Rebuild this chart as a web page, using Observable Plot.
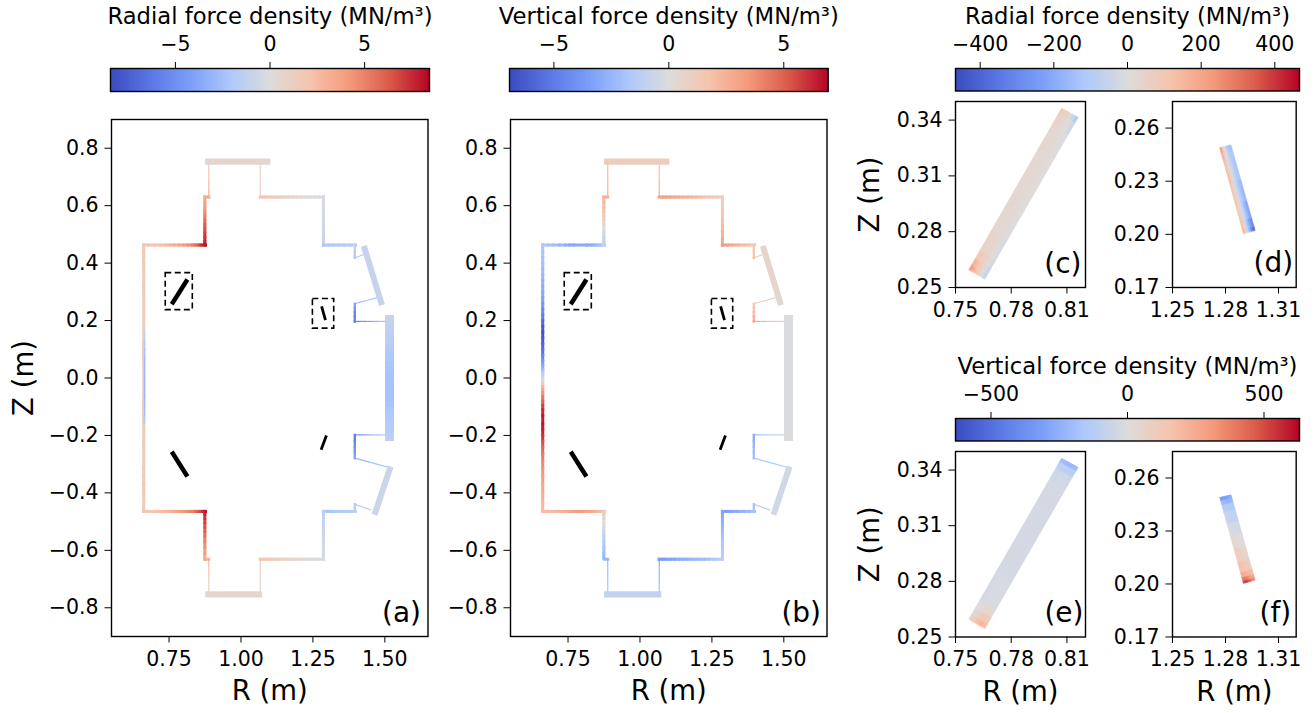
<!DOCTYPE html>
<html>
<head>
<meta charset="utf-8">
<script src="https://cdn.jsdelivr.net/npm/d3@7"></script>
<script src="https://cdn.jsdelivr.net/npm/@observablehq/plot@0.6"></script>
<style>
html,body{margin:0;padding:0;background:#fff;}
#fig{position:relative;width:1315px;height:713px;overflow:hidden;}
#fig>div,#fig>svg{position:absolute;}
</style>
</head>
<body>
<div id="fig"></div>
<script>
// Matplotlib "coolwarm" stops
const coolwarm = ["#3b4cc0","#5a78e4","#7b9ff9","#aec9fc","#dddcdc","#f6c4ad","#f49a7b","#da5a49","#b40426"];
const interp = d3.piecewise(d3.interpolateRgb, coolwarm);

// Each vertex: [R (m), Z (m), radial force density, vertical force density]
const leftWall = [[.662,.4645,1.8,-1.8],[.662,.44,1.75,-1.9],[.662,.42,1.7,-2],[.662,.40,1.65,-2.1],[.662,.38,1.6,-2.3],[.662,.36,1.6,-2.5],[.662,.34,1.6,-2.7],[.662,.32,1.55,-2.9],[.662,.30,1.5,-3.1],[.662,.28,1.5,-3.4],[.662,.26,1.5,-3.8],[.662,.24,1.5,-4.4],[.662,.22,1.5,-5],[.662,.20,1.5,-5.8],[.662,.18,1.5,-6.4],[.662,.16,1.5,-6.6],[.662,.14,1.5,-6.4],[.662,.12,1.45,-6],[.662,.10,1.4,-5.4],[.662,.08,1.3,-4.6],[.662,.06,1.2,-3.8],[.662,.045,1.2,-3.1],[.662,.03,1.2,-2.4],[.662,.02,1.2,-1.6],[.662,.01,1.2,-.9],[.662,0,1.2,-.3],[.662,-.01,1.2,.3],[.662,-.02,1.2,1.4],[.662,-.03,1.2,2.4],[.662,-.04,1.2,3.1],[.662,-.05,1.2,3.7],[.662,-.065,1.25,4.4],[.662,-.08,1.3,5],[.662,-.095,1.35,5.7],[.662,-.11,1.4,6.2],[.662,-.13,1.45,6.5],[.662,-.16,1.5,6.6],[.662,-.18,1.5,6.4],[.662,-.2,1.5,6],[.662,-.22,1.55,5.4],[.662,-.24,1.6,4.8],[.662,-.265,1.6,4.3],[.662,-.29,1.6,3.9],[.662,-.315,1.65,3.6],[.662,-.34,1.7,3.3],[.662,-.37,1.75,2.9],[.662,-.4,1.8,2.6],[.662,-.43,1.8,2.3],[.662,-.4645,1.8,2]];
const midStrand = [[.6648,.17,-1,0],[.6648,.15,-1.5,0],[.6648,.13,-2,0],[.6648,.105,-2.4,0],[.6648,.08,-2.8,0],[.6648,.05,-2.9,0],[.6648,.02,-3,0],[.6648,-.02,-3,0],[.6648,-.05,-3,0],[.6648,-.075,-2.8,0],[.6648,-.1,-2.6,0],[.6648,-.13,-2.1,0],[.6648,-.16,-1.5,0]];
const topShelfL = [[.662,.463,1.8,-1.8],[.68,.463,1.9,-2],[.70,.463,2,-2.2],[.72,.463,2.3,-2.5],[.74,.463,2.6,-2.8],[.755,.463,2.9,-3],[.77,.463,3.2,-3.1],[.785,.463,3.6,-3.1],[.80,.463,4,-3.1],[.815,.463,4.5,-3],[.83,.463,5,-2.8],[.84,.463,5.5,-2.5],[.85,.463,6,-2.2],[.858,.463,6.8,-2],[.865,.463,7.5,-1.8],[.8766,.463,8,-1.5]];
const topRiserL = [[.8744,.463,8,-1],[.8744,.475,7.6,-.9],[.8744,.49,7.2,-.7],[.8744,.505,6.8,-.4],[.8744,.52,6.4,0],[.8744,.535,6,.5],[.8744,.55,5.5,1],[.8744,.565,5,1.4],[.8744,.58,4.5,1.8],[.8744,.595,4,2],[.8744,.61,3.6,2.2],[.8744,.63,3.4,2.5],[.888,.63,3,2.5]];
const topNeckL = [[.888,.63,3,2.6],[.888,.66,2.5,2.4],[.888,.69,2,2.3],[.888,.72,1.6,2.1],[.888,.75,1.2,2]];
const topPlate = [[.8754,.7533,.6,1.2],[.98,.7533,.6,1.2],[1.102,.7533,.6,1.2]];
const topNeckR = [[1.067,.753,.8,1.8],[1.067,.72,.9,2],[1.067,.69,1.1,2.3],[1.067,.66,1.3,2.6],[1.067,.63,1.5,2.9]];
const topShelfR = [[1.067,.63,2,3.3],[1.08,.63,1.9,3.2],[1.09,.63,1.8,3.1],[1.105,.63,1.65,3],[1.12,.63,1.5,2.9],[1.135,.63,1.25,2.7],[1.15,.63,1,2.5],[1.165,.63,.8,2.4],[1.18,.63,.6,2.3],[1.195,.63,.45,2.1],[1.21,.63,.3,1.9],[1.225,.63,.15,1.7],[1.24,.63,0,1.5],[1.255,.63,-.05,1.3],[1.27,.63,-.1,1.1],[1.2866,.63,-.2,.9]];
const topRiserR = [[1.2866,.63,-.2,.9],[1.2866,.61,-.3,1.1],[1.2866,.59,-.4,1.4],[1.2866,.57,-.5,1.6],[1.2866,.55,-.6,1.9],[1.2866,.53,-.7,2.2],[1.2866,.51,-.8,2.5],[1.2866,.485,-.95,2.9],[1.2866,.463,-1.1,3.3]];
const topShelfO = [[1.2866,.463,-2.2,3.3],[1.305,.463,-2.1,3],[1.32,.463,-2,2.7],[1.34,.463,-1.9,2.3],[1.36,.463,-1.8,2],[1.38,.463,-1.65,1.7],[1.398,.463,-1.5,1.4]];
const upperPortA = [[1.3956,.463,-1.5,1.4],[1.3956,.44,-1.65,1.5],[1.3956,.418,-1.8,1.7]];
const upperLinkA = [[1.3956,.418,-2,1.2],[1.427,.43,-2,1]];
const upperSlab = [[1.427,.46,-1,.5],[1.49,.2536,-1,.5]];
const upperLinkB = [[1.4736,.28,-2.4,1],[1.43,.268,-2.7,1.1],[1.392,.258,-3,1.2]];
const upperPortB = [[1.3956,.258,-4,1.5],[1.3956,.245,-4.8,1.7],[1.3956,.23,-5.5,2],[1.3956,.215,-5.8,2.5],[1.3956,.197,-6,3]];
const upperMid = [[1.392,.197,-6,3],[1.405,.197,-5.5,2.7],[1.42,.197,-5,2.4],[1.44,.197,-4.1,1.9],[1.46,.197,-3.2,1.5],[1.48,.197,-2.6,1.1],[1.5026,.197,-2,.8]];
const rightWall = [[1.5155,.22,-1,-.1],[1.5155,.20,-1.15,-.1],[1.5155,.185,-1.25,-.1],[1.5155,.17,-1.4,-.1],[1.5155,.155,-1.5,-.1],[1.5155,.14,-1.6,-.1],[1.5155,.12,-1.8,-.1],[1.5155,.10,-1.95,-.1],[1.5155,.08,-2.1,-.1],[1.5155,.06,-2.2,-.1],[1.5155,.04,-2.3,-.1],[1.5155,.02,-2.35,-.1],[1.5155,0,-2.4,-.1],[1.5155,-.02,-2.4,-.1],[1.5155,-.04,-2.4,-.1],[1.5155,-.06,-2.4,-.1],[1.5155,-.08,-2.3,-.1],[1.5155,-.10,-2.15,-.1],[1.5155,-.12,-2,-.1],[1.5155,-.14,-1.9,-.1],[1.5155,-.155,-1.8,-.1],[1.5155,-.17,-1.7,-.1],[1.5155,-.19,-1.5,-.1],[1.5155,-.205,-1.4,-.1],[1.5155,-.219,-1.3,-.1]];
const lowerMid = [[1.5026,-.198,-2,-1],[1.48,-.198,-2.6,-1.25],[1.46,-.198,-3.2,-1.5],[1.44,-.198,-4.1,-1.85],[1.42,-.198,-5,-2.2],[1.405,-.198,-5.5,-2.6],[1.392,-.198,-6,-3]];
const lowerPortB = [[1.3956,-.198,-6,-3],[1.3956,-.22,-5.5,-2.7],[1.3956,-.24,-5,-2.4],[1.3956,-.26,-4.2,-2.2],[1.3956,-.279,-3.5,-2]];
const lowerLinkB = [[1.3956,-.279,-3,-1.8],[1.45,-.294,-2.6,-1.6],[1.5085,-.31,-2.2,-1.4]];
const lowerSlab = [[1.464,-.476,-.8,-.5],[1.52,-.308,-.8,-.5]];
const lowerLinkA = [[1.4528,-.46,-1.5,-1.3],[1.3956,-.439,-1.5,-1.3]];
const lowerPortA = [[1.3956,-.439,-1.8,-2],[1.3956,-.4645,-1.8,-2.2]];
const lowerShelfO = [[1.398,-.4645,-1.5,-2],[1.38,-.4645,-1.65,-2.4],[1.36,-.4645,-1.8,-2.7],[1.34,-.4645,-2,-3],[1.32,-.4645,-2.2,-3.2],[1.305,-.4645,-2.35,-3.4],[1.2866,-.4645,-2.5,-3.5]];
const lowerRiserR = [[1.2866,-.4645,-1.5,-3.2],[1.2866,-.485,-1.25,-2.9],[1.2866,-.51,-1,-2.6],[1.2866,-.53,-.85,-2.3],[1.2866,-.55,-.7,-2],[1.2866,-.57,-.55,-1.8],[1.2866,-.59,-.4,-1.6],[1.2866,-.61,-.3,-1.4],[1.2866,-.631,-.2,-1.3]];
const lowerShelfR = [[1.2866,-.631,-.2,-1.3],[1.27,-.631,-.1,-1.5],[1.255,-.631,-.05,-1.8],[1.24,-.631,0,-2.1],[1.225,-.631,.15,-2.2],[1.21,-.631,.3,-2.3],[1.195,-.631,.45,-2.4],[1.18,-.631,.6,-2.5],[1.165,-.631,.8,-2.7],[1.15,-.631,1,-2.8],[1.135,-.631,1.25,-3],[1.12,-.631,1.5,-3.2],[1.105,-.631,1.65,-3.3],[1.09,-.631,1.8,-3.4],[1.08,-.631,1.9,-3.5],[1.067,-.631,2,-3.6]];
const lowerNeckR = [[1.067,-.631,1.5,-2.8],[1.067,-.66,1.3,-2.6],[1.067,-.69,1.1,-2.4],[1.067,-.72,.9,-2.2],[1.067,-.754,.8,-2]];
const lowerPlate = [[.8754,-.7533,.5,-1],[.98,-.7533,.5,-1],[1.0737,-.7533,.5,-1]];
const lowerNeckL = [[.888,-.75,1.2,-2],[.888,-.72,1.6,-2.15],[.888,-.69,2,-2.3],[.888,-.66,2.5,-2.4],[.888,-.631,3,-2.5]];
const lowerRiserL = [[.888,-.631,3,-2.5],[.8744,-.631,3.5,-2.5],[.8744,-.61,4,-2.1],[.8744,-.59,4.5,-1.8],[.8744,-.57,5,-1.4],[.8744,-.55,5.5,-1],[.8744,-.535,6,-.6],[.8744,-.52,6.4,-.3],[.8744,-.505,6.8,.1],[.8744,-.49,7.2,.5],[.8744,-.475,7.6,.9],[.8744,-.4645,8,1.2]];
const lowerShelfL = [[.8766,-.4645,8,1.2],[.865,-.4645,7.5,2],[.858,-.4645,6.8,2.2],[.85,-.4645,6.2,2.4],[.84,-.4645,5.6,2.7],[.83,-.4645,5,3],[.815,-.4645,4.6,3.2],[.80,-.4645,4.2,3.4],[.785,-.4645,3.8,3.3],[.77,-.4645,3.4,3.2],[.755,-.4645,3,2.9],[.74,-.4645,2.6,2.6],[.72,-.4645,2.3,2.4],[.70,-.4645,2,2.2],[.68,-.4645,1.9,2.1],[.662,-.4645,1.8,2]];

// Groups of wall pieces by line weight
const thinWalls = [topNeckL,topNeckR,upperLinkA,upperLinkB,upperMid,lowerMid,lowerLinkB,lowerLinkA,lowerNeckR,lowerNeckL];
const midWalls = [upperPortA,upperPortB,lowerPortB,lowerPortA];
const stdWalls = [leftWall,topShelfL,topRiserL,topShelfR,topRiserR,topShelfO,lowerShelfO,lowerRiserR,lowerShelfR,lowerRiserL,lowerShelfL];
const coilBars = [
  [[.7594,.257],[.8138,.343]],
  [[.7594,-.257],[.8138,-.343]]
];
const sideBars = [
  [[1.2937,.2011],[1.2802,.2495]],
  [[1.297,-.2],[1.2785,-.25]]
];
const boxes = [{x1:.7385,x2:.8326,y1:.2363,y2:.365},{x1:1.25,x2:1.324,y1:.172,y2:.275}];

// Inset bands: corners (bottom-left, bottom-right, top-right, top-left)
const bandC = [[.7575,.2594],[.7661,.2543],[.8163,.3412],[.8074,.3461]];
const bandD = [[1.2904,.2002],[1.2970,.2021],[1.2834,.2502],[1.2770,.2487]];
// Stations along each band and force density per row (left to right across)
const stationsC = [0,.03,.07,.12,.25,.5,.75,.9,.97,1];
const radialC = [[220,170,110,60,0,-60],[160,130,90,50,10,-50],[100,85,65,40,15,-30],[50,45,40,30,15,-15],[30,28,25,22,15,0],[25,24,22,20,15,5],[30,28,25,20,10,-5],[50,45,30,15,-5,-40],[90,70,50,20,-40,-110]];
const stationsD = [0,.05,.15,.35,.6,.85,.95,1];
const radialD = [[170,60,-60,-170,-280,-380],[130,60,-50,-150,-230,-280],[100,50,-30,-100,-170,-210],[110,50,-20,-80,-130,-160],[130,60,-10,-70,-110,-130],[170,70,0,-70,-110,-120],[230,90,-5,-80,-130,-140]];
const stationsE = [0,.03,.07,.12,.3,.7,.88,.94,.98,1];
const verticalE = [[60,120,170,200,210,180],[30,60,100,130,140,120],[-5,10,30,45,45,35],[-30,-25,-20,-20,-20,-20],[-35,-35,-35,-35,-35,-35],[-35,-35,-35,-35,-35,-35],[-50,-50,-45,-45,-45,-50],[-110,-110,-110,-120,-120,-120],[-200,-210,-220,-230,-230,-220]];
const stationsF = [0,.03,.07,.13,.25,.4,.55,.7,.83,.92,.97,1];
const verticalF = [[520,560,520,460,400,350],[400,400,380,340,300,270],[260,260,240,220,200,190],[170,170,150,130,120,110],[100,90,80,70,60,60],[50,40,30,20,15,10],[-20,-30,-30,-40,-40,-40],[-70,-80,-90,-90,-90,-90],[-130,-140,-140,-150,-150,-150],[-220,-230,-240,-240,-240,-230],[-340,-340,-340,-320,-300,-280]];

const mainXTicks = [.75,1,1.25,1.5];
const mainYTicks = [-.8,-.6,-.4,-.2,0,.2,.4,.6,.8];
const cXTicks = [.75,.78,.81], cYTicks = [.25,.28,.31,.34];
const dXTicks = [1.25,1.28,1.31], dYTicks = [.17,.20,.23,.26];

const FONT = "DejaVu Sans";
const fig = document.getElementById("fig");
const TICK = 20.5, LAB = 27.5;

function place(frameLeft, frameTop, frameW, frameH, mL, mT, mR, mB, options) {
  const el = Plot.plot({
    width: frameW + mL + mR, height: frameH + mT + mB,
    marginLeft: mL, marginTop: mT, marginRight: mR, marginBottom: mB,
    style: {fontFamily: FONT, background: "transparent", color: "black", overflow: "visible"},
    ...options
  });
  el.style.left = (frameLeft - mL) + "px";
  el.style.top = (frameTop - mT) + "px";
  fig.appendChild(el);
}

function colorbar(left, top, w, h, half, ticks, title, titleDy) {
  place(left, top, w, h, 10, 70, 10, 2, {
    x: {domain: [-half, half], axis: null},
    y: {domain: [0, 1], axis: null},
    color: {type: "linear", domain: [-half, half], interpolate: interp, clamp: true},
    marks: [
      Plot.raster({fill: (x, y) => x, x1: -half, x2: half, y1: 0, y2: 1, pixelSize: 1}),
      Plot.frame({stroke: "black", strokeWidth: 1.4}),
      Plot.axisX({anchor: "top", ticks, tickSize: 7, tickPadding: 10.5, fontSize: TICK, label: null, tickFormat: d3.format("d")}),
      Plot.text([title], {text: d => d, frameAnchor: "top", dy: titleDy, lineAnchor: "middle", fontSize: 22.7, fill: "black"})
    ]
  });
}

function panelAxes(xt, yt, xf, yf) {
  return [
    Plot.frame({stroke: "black", strokeWidth: 1.4}),
    Plot.axisX({anchor: "bottom", ticks: xt, tickSize: 6.5, tickPadding: 8, fontSize: TICK, label: null, tickFormat: d3.format(xf)}),
    Plot.axisY({anchor: "left", ticks: yt, tickSize: 6.5, tickPadding: 6.5, fontSize: TICK, label: null, tickFormat: d3.format(yf)})
  ];
}
const axisText = (label, opts) => Plot.text([label], {text: d => d, fontSize: LAB, fill: "black", textAnchor: "middle", ...opts});
const tagText = (label, dx) => Plot.text([label], {text: d => d, frameAnchor: "bottom-right", dx, dy: -15, fontSize: 28, fill: "black"});

function wallMarks(pieces, ch, sw, cap, crisp) {
  return pieces.map(p => Plot.line(p, {x: d => d[0], y: d => d[1], z: null, stroke: d => d[ch], strokeWidth: sw, strokeLinecap: cap, shapeRendering: crisp ? "crispEdges" : undefined}));
}

function mainPanel(left, ch, half, tag, withStrand, tagDx) {
  const marks = [
    ...wallMarks(thinWalls, ch, 1.2, "butt"),
    ...wallMarks(midWalls, ch, 2.3, "square"),
    ...wallMarks(stdWalls, ch, 3, "square"),
    ...wallMarks([topPlate, lowerPlate], ch, 6.3, "butt"),
    ...wallMarks([upperSlab, lowerSlab], ch, 6, "butt"),
    ...wallMarks([rightWall], ch, 8.7, "butt", true),
    ...(withStrand ? wallMarks([midStrand], ch, 1.4, "butt") : []),
    ...coilBars.map(b => Plot.line(b, {x: d => d[0], y: d => d[1], stroke: "black", strokeWidth: 4.5, strokeLinecap: "butt"})),
    ...sideBars.map(b => Plot.line(b, {x: d => d[0], y: d => d[1], stroke: "black", strokeWidth: 2.8, strokeLinecap: "butt"})),
    Plot.rect(boxes, {x1: "x1", x2: "x2", y1: "y1", y2: "y2", fill: "none", stroke: "black", strokeWidth: 1.6, strokeDasharray: "6,3.5"}),
    ...panelAxes(mainXTicks, mainYTicks, ".2f", ".1f"),
    axisText("R (m)", {frameAnchor: "bottom", dy: 55, lineAnchor: "middle"}),
    left < 200 ? axisText("Z (m)", {frameAnchor: "left", dx: -87, rotate: -90, lineAnchor: "middle"}) : null,
    tagText(tag, tagDx)
  ];
  place(left, 119.3, 316.5, 517, 90, 10, 10, 70, {
    x: {domain: [.55, 1.65], axis: null},
    y: {domain: [-.9, .9], axis: null},
    color: {type: "linear", domain: [-half, half], interpolate: interp, clamp: true},
    marks
  });
}

function bandCells(corners, stations, rows) {
  const [bl, br, tr, tl] = corners;
  const at = (t, s) => {
    const a = [bl[0] + (br[0]-bl[0])*s, bl[1] + (br[1]-bl[1])*s];
    const b = [tl[0] + (tr[0]-tl[0])*s, tl[1] + (tr[1]-tl[1])*s];
    return [a[0] + (b[0]-a[0])*t, a[1] + (b[1]-a[1])*t];
  };
  const out = [];
  rows.forEach((row, i) => row.forEach((v, j) => {
    const n = row.length, z = i + "-" + j;
    for (const t of [stations[i], stations[i+1]]) {
      const p = at(t, j/n), q = at(t, (j+1)/n);
      out.push({x1: p[0], y1: p[1], x2: q[0], y2: q[1], z, v});
    }
  }));
  return out;
}

function inset(left, top, w, h, xd, yd, xt, yt, corners, stations, rows, half, tag, withZ, withR, tagDx) {
  place(left, top, w, h, 60, 8, 10, 70, {
    x: {domain: xd, axis: null},
    y: {domain: yd, axis: null},
    color: {type: "linear", domain: [-half, half], interpolate: interp, clamp: true},
    marks: [
      Plot.area(bandCells(corners, stations, rows), {x1: "x1", y1: "y1", x2: "x2", y2: "y2", z: "z", fill: "v", stroke: "v", strokeWidth: .6}),
      ...panelAxes(xt, yt, ".2f", ".2f"),
      withZ ? axisText("Z (m)", {frameAnchor: "left", dx: -85, rotate: -90, lineAnchor: "middle"}) : null,
      withR ? axisText("R (m)", {frameAnchor: "bottom", dy: 55, lineAnchor: "middle"}) : null,
      tagText(tag, tagDx)
    ]
  });
}

colorbar(110, 67.7, 319, 23, 8.43, [-5,0,5], "Radial force density (MN/m³)", -52);
colorbar(509, 67.7, 318.7, 23, 6.93, [-5,0,5], "Vertical force density (MN/m³)", -52);
colorbar(955, 67.7, 344, 22.5, 467, [-400,-200,0,200,400], "Radial force density (MN/m³)", -52);
colorbar(955, 417.7, 344, 22.5, 630, [-500,0,500], "Vertical force density (MN/m³)", -52);

mainPanel(111, 2, 8.43, "(a)", true, -7);
mainPanel(510, 3, 7, "(b)", false, -6);

inset(955.3, 100.7, 130, 186, [.75,.82], [.25,.35], cXTicks, cYTicks, bandC, stationsC, radialC, 467, "(c)", true, false, -4);
inset(1172, 100.7, 123.7, 186, [1.25,1.32], [.17,.275], dXTicks, dYTicks, bandD, stationsD, radialD, 467, "(d)", false, false, -3);
inset(955.3, 451, 130, 185.5, [.75,.82], [.25,.35], cXTicks, cYTicks, bandC, stationsE, verticalE, 630, "(e)", true, true, -2);
inset(1172, 451, 123.7, 185.5, [1.25,1.32], [.17,.275], dXTicks, dYTicks, bandD, stationsF, verticalF, 630, "(f)", false, true, -5);
</script>
</body>
</html>
